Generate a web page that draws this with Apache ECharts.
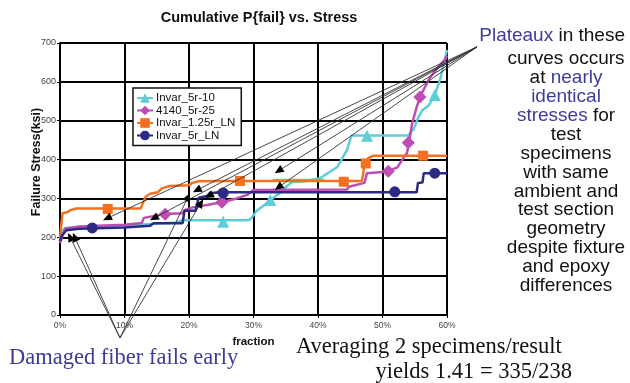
<!DOCTYPE html>
<html>
<head>
<meta charset="utf-8">
<script src="https://cdn.jsdelivr.net/npm/echarts@6/dist/echarts.min.js"></script>
<style>
  html, body { margin: 0; background: #fff; }
  #chart { width: 630px; height: 383px; }
</style>
</head>
<body>
<div id="chart"></div>
<script>
// [fraction, failure stress ksi]
var invar5r10 = [[0,195],[0.003,215],[0.008,224],[0.05,227],[0.1,230],[0.14,234],[0.18,238],[0.19,244],[0.293,244],[0.298,252],[0.305,268],[0.316,282],[0.326,296],[0.341,314],[0.352,332],[0.36,342],[0.38,344],[0.403,352],[0.418,368],[0.43,381],[0.445,425],[0.452,462],[0.54,462],[0.548,478],[0.556,510],[0.562,527],[0.572,540],[0.581,565],[0.59,610],[0.597,660],[0.6,682]];
var s4140_5r25 = [[0,185],[0.003,200],[0.008,222],[0.03,228],[0.1,232],[0.127,237],[0.13,250],[0.15,256],[0.163,260],[0.19,262],[0.193,270],[0.206,277],[0.23,284],[0.251,290],[0.274,300],[0.29,309],[0.3,322],[0.445,323],[0.448,330],[0.472,340],[0.476,365],[0.5,368],[0.512,372],[0.523,380],[0.53,398],[0.538,417],[0.541,443],[0.546,494],[0.553,535],[0.558,561],[0.566,587],[0.574,612],[0.589,643],[0.597,658],[0.6,668]];
var invar125rLN = [[0,195],[0.002,232],[0.004,262],[0.012,265],[0.016,270],[0.025,274],[0.125,274],[0.128,286],[0.133,305],[0.14,312],[0.152,316],[0.158,326],[0.17,332],[0.2,334],[0.205,340],[0.215,344],[0.25,345],[0.468,345],[0.47,362],[0.472,390],[0.478,404],[0.486,410],[0.6,410]];
var invar5rLN = [[0,190],[0.003,205],[0.01,218],[0.03,222],[0.1,225],[0.14,230],[0.145,236],[0.19,236],[0.193,268],[0.21,268],[0.215,302],[0.228,306],[0.232,314],[0.26,316],[0.553,316],[0.555,340],[0.562,341],[0.564,365],[0.6,365]];
var extraGreen = [[0.33,348],[0.41,348]];

// marker positions
var invar5r10Marks = [[0.253,240],[0.326,296],[0.476,461],[0.581,566]];
var s4140_5r25Marks = [[0.163,259],[0.251,290],[0.509,370],[0.54,443],[0.558,561]];
var invar125rLNMarks = [[0.074,273],[0.279,345],[0.44,343],[0.474,390],[0.563,410]];
var invar5rLNMarks = [[0.05,224],[0.253,314],[0.519,317],[0.581,365]];

// annotation arrows [fromX, fromY, toX, toY]
var plateauArrows = [[0.6465,690,0.0667,244],[0.6465,690,0.1395,244],[0.6465,690,0.206,316],[0.6465,690,0.225,301],[0.6465,690,0.333,365],[0.6465,690,0.333,322]];
var damagedArrows = [[0.093,-59,0.0124,211],[0.093,-59,0.020,211],[0.093,-59,0.2016,314],[0.093,-59,0.222,298]];

var seriesNames = ['Invar_5r-10', '4140_5r-25', 'Invar_1.25r_LN', 'Invar_5r_LN'];
var colors = ['#5dcdd8', '#bd4cb3', '#f37021', '#2c2b84'];
var symbols = ['triangle', 'diamond', 'rect', 'circle'];
var lineData = [invar5r10, s4140_5r25, invar125rLN, invar5rLN];
var markData = [invar5r10Marks, s4140_5r25Marks, invar125rLNMarks, invar5rLNMarks];
var markSizes = [12, 13, 10, 11];

var yTicks = [0, 100, 200, 300, 400, 500, 600, 700];

var noteLines = ['curves occurs', 'at {b|nearly}', '{b|identical}', '{b|stresses} for', 'test', 'specimens', 'with same', 'ambient and', 'test section', 'geometry', 'despite fixture', 'and epoxy', 'differences'];
var blue = '#3b3d97';

var chart = echarts.init(document.getElementById('chart'));

function arrowItem(params, api) {
    var a = api.coord([api.value(0), api.value(1)]);
    var b = api.coord([api.value(2), api.value(3)]);
    var dx = b[0] - a[0], dy = b[1] - a[1];
    var len = Math.sqrt(dx * dx + dy * dy);
    var ux = dx / len, uy = dy / len;
    var h = 9, w = 4;
    var bx = b[0] - ux * h, by = b[1] - uy * h;
    return {
        type: 'group',
        children: [
            { type: 'line', shape: { x1: a[0], y1: a[1], x2: bx, y2: by }, style: { stroke: '#333', lineWidth: 0.9 } },
            { type: 'polygon', shape: { points: [b, [bx - uy * w, by + ux * w], [bx + uy * w, by - ux * w]] }, style: { fill: '#000' } }
        ]
    };
}

var series = [];
series.push({
    type: 'line', name: 'green', data: extraGreen, showSymbol: false,
    lineStyle: { color: '#7cc576', width: 2 }, silent: true
});
for (var i = 0; i < 4; i++) {
    series.push({
        type: 'line',
        name: seriesNames[i],
        data: lineData[i],
        symbol: symbols[i],
        showSymbol: false,
        itemStyle: { color: colors[i] },
        lineStyle: { color: colors[i], width: 2.5 },
        z: 2 + i
    });
}
for (var j = 0; j < 4; j++) {
    series.push({
        type: 'scatter',
        name: seriesNames[j] + ' pts',
        data: markData[j],
        symbol: symbols[j],
        symbolSize: markSizes[j],
        itemStyle: { color: colors[j], opacity: 1 },
        z: 7
    });
}
series.push({
    type: 'custom', name: 'plateaux', renderItem: arrowItem, data: plateauArrows,
    encode: { x: [0, 2], y: [1, 3] }, clip: false, z: 9, silent: true
});
series.push({
    type: 'custom', name: 'damaged', renderItem: arrowItem, data: damagedArrows,
    encode: { x: [0, 2], y: [1, 3] }, clip: false, z: 9, silent: true
});

var graphics = [
    { type: 'text', x: 259, y: 18, style: { text: 'Cumulative P{fail} vs. Stress', font: 'bold 14.5px "Liberation Sans", Arial', fill: '#111', align: 'center', verticalAlign: 'middle' } },
    { type: 'text', x: 37, y: 162, rotation: Math.PI / 2, style: { text: 'Failure Stress(ksi)', font: 'bold 12.5px "Liberation Sans", Arial', fill: '#111', align: 'center', verticalAlign: 'middle' } },
    { type: 'text', x: 625, y: 36, style: { text: '{b|Plateaux} in these', font: '19px "Liberation Sans", Arial', fill: '#111', align: 'right', verticalAlign: 'middle', rich: { b: { fill: blue, font: '19px "Liberation Sans", Arial' } } } },
    { type: 'text', x: 9, y: 358, style: { text: 'Damaged fiber fails early', font: '22.5px "Liberation Serif", "Times New Roman"', fill: blue, verticalAlign: 'middle' } },
    { type: 'text', x: 296, y: 347, style: { text: 'Averaging 2 specimens/result', font: '22.5px "Liberation Serif", "Times New Roman"', fill: '#111', verticalAlign: 'middle' } },
    { type: 'text', x: 572, y: 372, style: { text: 'yields 1.41 = 335/238', font: '22.5px "Liberation Serif", "Times New Roman"', fill: '#111', align: 'right', verticalAlign: 'middle' } }
];
noteLines.forEach(function (t, k) {
    graphics.push({
        type: 'text', x: 566, y: 59 + k * 18.9,
        style: { text: t, font: '19px "Liberation Sans", Arial', fill: '#111', align: 'center', verticalAlign: 'middle', rich: { b: { fill: blue, font: '19px "Liberation Sans", Arial' } } }
    });
});

chart.setOption({
    animation: false,
    grid: { left: 60, right: 183, top: 43, bottom: 68 },
    legend: {
        data: seriesNames,
        orient: 'vertical',
        left: 133, top: 88,
        padding: [4, 6, 4, 3],
        itemGap: 0.5,
        itemWidth: 16,
        itemHeight: 12,
        backgroundColor: '#fff',
        borderColor: '#111',
        borderWidth: 1.5,
        borderRadius: 0,
        selectedMode: false,
        textStyle: { fontSize: 11.5, color: '#111', fontFamily: '"Liberation Sans", Arial', padding: [0, 0, 0, -2] }
    },
    xAxis: {
        type: 'value', min: 0, max: 0.6, interval: 0.1,
        name: 'fraction', nameLocation: 'middle', nameGap: 21,
        nameTextStyle: { fontWeight: 'bold', fontSize: 11.5, color: '#111', fontFamily: '"Liberation Sans", Arial' },
        axisLine: { lineStyle: { color: '#000', width: 2 } },
        axisTick: { show: true, length: 3, lineStyle: { color: '#000' } },
        axisLabel: { fontSize: 8.5, color: '#444', margin: 6, formatter: function (v) { return Math.round(v * 100) + '%'; } },
        splitLine: { show: true, lineStyle: { color: '#000', width: 2 } }
    },
    yAxis: {
        type: 'value', min: yTicks[0], max: yTicks[yTicks.length - 1], interval: 100,
        axisLine: { show: true, lineStyle: { color: '#000', width: 2 } },
        axisTick: { show: true, length: 3, lineStyle: { color: '#000' } },
        axisLabel: { fontSize: 9, color: '#444', margin: 4 },
        splitLine: { show: true, lineStyle: { color: '#000', width: 2 } }
    },
    graphic: graphics,
    series: series
});
</script>
</body>
</html>
